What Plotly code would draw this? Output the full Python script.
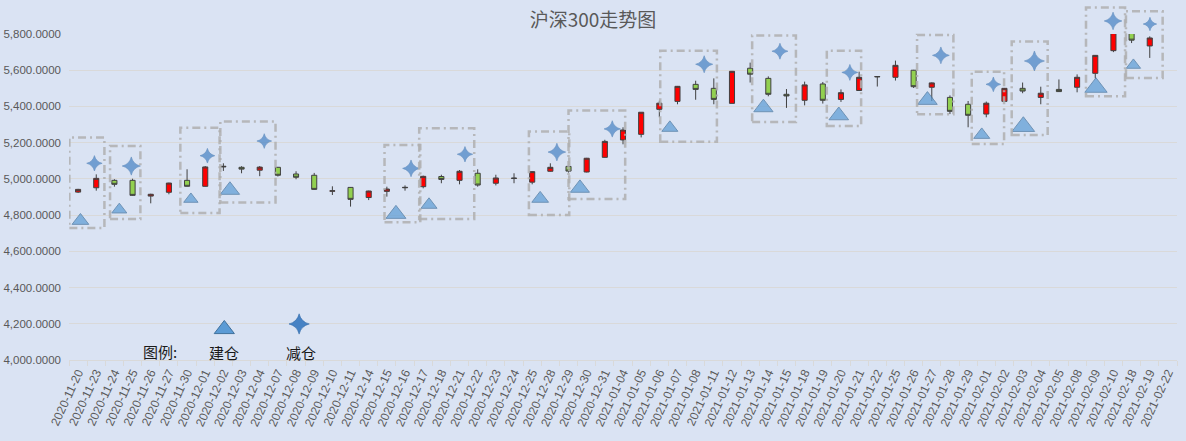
import plotly.graph_objects as go

# ---------------- data ----------------
dates = [
    "2020-11-20", "2020-11-23", "2020-11-24", "2020-11-25", "2020-11-26", "2020-11-27", "2020-11-30",
    "2020-12-01", "2020-12-02", "2020-12-03", "2020-12-04", "2020-12-07", "2020-12-08", "2020-12-09",
    "2020-12-10", "2020-12-11", "2020-12-14", "2020-12-15", "2020-12-16", "2020-12-17", "2020-12-18",
    "2020-12-21", "2020-12-22", "2020-12-23", "2020-12-24", "2020-12-25", "2020-12-28", "2020-12-29",
    "2020-12-30", "2020-12-31", "2021-01-04", "2021-01-05", "2021-01-06", "2021-01-07", "2021-01-08",
    "2021-01-11", "2021-01-12", "2021-01-13", "2021-01-14", "2021-01-15", "2021-01-18", "2021-01-19",
    "2021-01-20", "2021-01-21", "2021-01-22", "2021-01-25", "2021-01-26", "2021-01-27", "2021-01-28",
    "2021-01-29", "2021-02-01", "2021-02-02", "2021-02-03", "2021-02-04", "2021-02-05", "2021-02-08",
    "2021-02-09", "2021-02-10", "2021-02-18", "2021-02-19", "2021-02-22",
]

open_ = [4927, 4951, 4992, 4992, 4905, 4926, 4992, 4959, 5066, 5064, 5048, 5064, 5027, 5020, 4932,
         4953, 4897, 4931, 4951, 4957, 5013, 4992, 5031, 4976, 5002, 4982, 5042, 5069, 5038, 5119,
         5215, 5246, 5384, 5428, 5522, 5500, 5417, 5611, 5555, 5467, 5434, 5524, 5439, 5488, 5563,
         5561, 5600, 5506, 5450, 5412, 5358, 5428, 5500, 5450, 5494, 5506, 5583, 5708, 5868, 5734, None]
high = [4945, 5025, 4998, 5001, 4918, 4979, 5053, 5071, 5086, 5070, 5071, 5066, 5042, 5033, 4959,
        4955, 4935, 4957, 4964, 5018, 5023, 5049, 5053, 5023, 5031, 5042, 5086, 5073, 5116, 5216,
        5285, 5368, 5432, 5513, 5542, 5555, 5596, 5642, 5566, 5496, 5537, 5535, 5494, 5592, 5567,
        5653, 5602, 5533, 5461, 5430, 5427, 5502, 5532, 5509, 5549, 5577, 5684, 5818, 5931, 5787, None]
low = [4922, 4935, 4957, 4907, 4865, 4915, 4958, 4958, 5044, 5031, 5015, 5013, 4998, 4940, 4911,
       4847, 4883, 4902, 4935, 4948, 4976, 4970, 4957, 4964, 4976, 4970, 5040, 5035, 5036, 5117,
       5191, 5229, 5340, 5412, 5437, 5412, 5417, 5532, 5456, 5392, 5406, 5416, 5425, 5486, 5510,
       5543, 5502, 5430, 5358, 5285, 5340, 5426, 5473, 5412, 5480, 5478, 5555, 5700, 5750, 5668, None]
close = [4942, 5003, 4970, 4909, 4915, 4977, 4959, 5066, 5069, 5054, 5065, 5020, 5009, 4942, 4934,
         4887, 4933, 4944, 4953, 5014, 4997, 5042, 4966, 5005, 5004, 5040, 5064, 5043, 5114, 5207,
         5270, 5368, 5418, 5511, 5494, 5439, 5594, 5578, 5467, 5458, 5519, 5434, 5476, 5561, 5565,
         5627, 5509, 5530, 5373, 5351, 5418, 5500, 5485, 5473, 5482, 5561, 5682, 5808, 5766, 5778, None]

# 建仓 (triangles) / 减仓 (stars): position along the category axis (index) and value
buy_x = [0.13, 2.27, 6.21, 8.36, 17.50, 19.32, 25.44, 27.63, 32.58, 37.73, 41.88, 46.76, 49.75, 52.04, 56.04, 58.10]
buy_y = [4769, 4830, 4888, 4938, 4806, 4857, 4891, 4949, 5282, 5394, 5350, 5435, 5243, 5289, 5505, 5628]
sell_x = [0.90, 2.93, 7.12, 10.25, 18.33, 21.30, 26.36, 29.41, 34.47, 38.64, 42.49, 47.50, 50.39, 52.65, 56.98, 59.01]
sell_y = [5086, 5071, 5128, 5209, 5058, 5136, 5148, 5276, 5633, 5705, 5588, 5682, 5522, 5651, 5872, 5855]

# dashed group boxes: index range and value range
box_x0 = [-0.48, 1.76, 5.63, 7.83, 16.87, 18.78, 24.82, 27.00, 32.05, 37.11, 41.22, 46.19, 49.20, 51.40, 55.49, 57.69]
box_x1 = [1.45, 3.43, 7.79, 10.87, 18.84, 21.81, 27.04, 30.12, 35.17, 39.52, 43.11, 48.19, 50.98, 53.38, 57.64, 59.71]
box_y0 = [4729, 4779, 4811, 4869, 4760, 4779, 4801, 4889, 5205, 5314, 5292, 5357, 5193, 5242, 5456, 5557]
box_y1 = [5229, 5182, 5283, 5317, 5187, 5279, 5262, 5377, 5708, 5792, 5708, 5795, 5592, 5758, 5946, 5925]

y_ticks = [4000, 4200, 4400, 4600, 4800, 5000, 5200, 5400, 5600, 5800]

title_text = "沪深300走势图"
legend_title = "图例:"
buy_label = "建仓"
sell_label = "减仓"

# ---------------- style / layout ----------------
W, H = 1186, 441
ML, MR, MT, MB = 69, 9, 5, 81
TOP_PX = 34                     # pixel row of the axis maximum
Y_MIN, Y_MAX = 4000, 5800
dom_top = (H - MB - TOP_PX) / (H - MT - MB)
y2_max = Y_MIN + (Y_MAX - Y_MIN) / dom_top

buy_size = [14.5, 13, 12.4, 16.7, 17.3, 13.9, 14.5, 16.5, 13.9, 16.7, 17, 17, 13.9, 19.6, 19.3, 12.4]
sell_size = [11, 13, 10.5, 10.5, 12, 11, 12.6, 11.7, 12.2, 11.4, 11.4, 12, 10.5, 14.3, 12.6, 9.6]

BG = "#DAE3F3"
GRID = "#D9D9D9"
TXT = "#595959"
BLUE = "#5B9BD5"
BLUE_EDGE = "#41719C"
STAR = "#4682C4"
STAR_EDGE = "#356DAA"
CJK = "Noto Sans CJK SC"
LAT = "Liberation Sans"

xs = list(range(len(dates)))

fig = go.Figure()

fig.add_trace(go.Candlestick(
    x=xs, open=open_, high=high, low=low, close=close,
    increasing=dict(fillcolor="#FF0000", line=dict(color="#404040", width=1)),
    decreasing=dict(fillcolor="#92D050", line=dict(color="#404040", width=1)),
    whiskerwidth=0, showlegend=False, hoverinfo="skip",
    xaxis="x", yaxis="y",
))

for x0, x1, y0, y1 in zip(box_x0, box_x1, box_y0, box_y1):
    fig.add_shape(type="rect", xref="x", yref="y2", x0=x0, x1=x1, y0=y0, y1=y1,
                  line=dict(color="rgba(175,175,175,0.85)", width=2.5, dash="8px,4px,2px,4px"),
                  fillcolor="rgba(0,0,0,0)", layer="above")

fig.add_trace(go.Scatter(
    x=buy_x, y=buy_y, mode="markers", xaxis="x", yaxis="y2",
    marker=dict(symbol="triangle-up", size=buy_size, color=BLUE, line=dict(color=BLUE_EDGE, width=1)),
    showlegend=False, hoverinfo="skip", cliponaxis=False,
))
fig.add_trace(go.Scatter(
    x=sell_x, y=sell_y, mode="markers", xaxis="x", yaxis="y2",
    marker=dict(symbol="star-diamond", size=sell_size, color=STAR, line=dict(color=STAR_EDGE, width=0.6)),
    showlegend=False, hoverinfo="skip", cliponaxis=False,
))

# hand-made legend inside the plot
LEG_TRI = (8.05, 4170)
LEG_STAR = (12.17, 4199)
fig.add_trace(go.Scatter(
    x=[LEG_TRI[0]], y=[LEG_TRI[1]], mode="markers", xaxis="x", yaxis="y2",
    marker=dict(symbol="triangle-up", size=17.5, color=BLUE, line=dict(color=BLUE_EDGE, width=1)),
    showlegend=False, hoverinfo="skip", cliponaxis=False,
))
fig.add_trace(go.Scatter(
    x=[LEG_STAR[0]], y=[LEG_STAR[1]], mode="markers", xaxis="x", yaxis="y2",
    marker=dict(symbol="star-diamond", size=14.5, color=STAR, line=dict(color=STAR_EDGE, width=0.6)),
    showlegend=False, hoverinfo="skip", cliponaxis=False,
))
for txt, (ax, ay) in [(legend_title, (4.53, 4047)), (buy_label, (8.05, 4040)), (sell_label, (12.28, 4040))]:
    fig.add_annotation(x=ax, y=ay, xref="x", yref="y2", text=txt, showarrow=False,
                       font=dict(family=CJK, size=15, color="#1a1a1a"), xanchor="center", yanchor="middle")

fig.update_layout(
    width=W, height=H,
    margin=dict(l=ML, r=MR, t=MT, b=MB, autoexpand=False),
    paper_bgcolor=BG, plot_bgcolor="rgba(0,0,0,0)",
    boxgap=0.6,
    title=dict(text=title_text, x=0.5, xanchor="center", y=1 - 20 / H, yanchor="middle", yref="container",
               font=dict(family=CJK, size=19, color=TXT)),
    xaxis=dict(
        range=[-0.5, len(dates) - 0.5], tickmode="array", tickvals=xs, ticktext=dates,
        tickangle=-65, tickfont=dict(family=LAT, size=12, color=TXT),
        showgrid=False, zeroline=False, showline=True, linecolor=GRID, linewidth=1,
        ticks="", anchor="y", rangeslider=dict(visible=False), fixedrange=True, automargin=False,
        minor=dict(tickvals=[i - 0.5 for i in range(len(dates) + 1)], ticks="outside",
                   ticklen=5, tickcolor=GRID, showgrid=False),
    ),
    yaxis=dict(
        domain=[0, dom_top], range=[Y_MIN, Y_MAX], tickmode="array", tickvals=y_ticks,
        tickformat=",.4f", tickfont=dict(family=LAT, size=11.5, color=TXT),
        showgrid=True, gridcolor=GRID, gridwidth=1, zeroline=False, showline=False,
        ticks="", anchor="x", automargin=False, ticklabelstandoff=7,
    ),
    yaxis2=dict(
        domain=[0, 1], range=[Y_MIN, y2_max], visible=False, anchor="x", showgrid=False,
    ),
    font=dict(family=LAT, color=TXT),
)

fig.write_html(
    "out.html",
    config={"displayModeBar": False},
    post_script="document.body.style.margin='0';document.body.style.overflow='hidden';",
)
